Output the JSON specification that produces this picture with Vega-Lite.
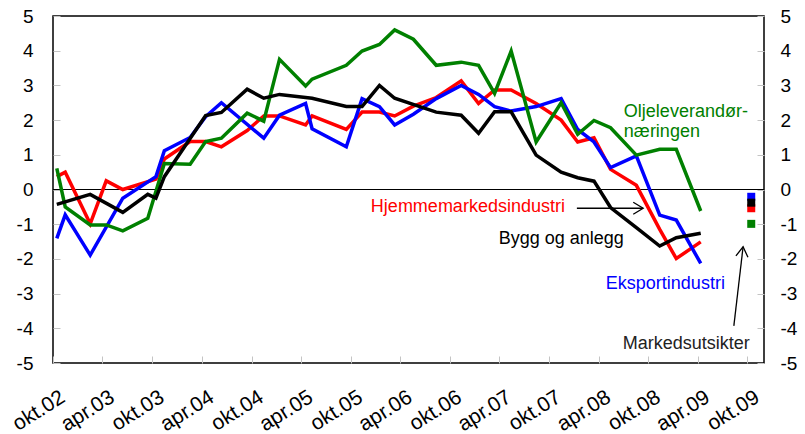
{
  "$schema": "https://vega.github.io/schema/vega-lite/v6.json",
  "width": 711,
  "height": 347,
  "autosize": "none",
  "padding": {"left": 53, "top": 16, "right": 41, "bottom": 71},
  "config": {
    "view": {"stroke": "#000000", "strokeWidth": 1.5},
    "font": "Liberation Sans",
    "axis": {"grid": false, "domain": false, "tickColor": "#c4c4c4", "tickSize": -7, "tickWidth": 1, "labelFont": "Liberation Sans", "labelFontSize": 19, "labelColor": "#000000"}
  },
  "datasets": {
    "serier": [
      {"serie": "Hjemmemarkedsindustri", "dato": "2002-10-15", "verdi": 0.37},
      {"serie": "Hjemmemarkedsindustri", "dato": "2002-11-15", "verdi": 0.5},
      {"serie": "Hjemmemarkedsindustri", "dato": "2003-02-15", "verdi": -0.99},
      {"serie": "Hjemmemarkedsindustri", "dato": "2003-04-15", "verdi": 0.25},
      {"serie": "Hjemmemarkedsindustri", "dato": "2003-06-15", "verdi": 0.0},
      {"serie": "Hjemmemarkedsindustri", "dato": "2003-10-15", "verdi": 0.3},
      {"serie": "Hjemmemarkedsindustri", "dato": "2003-11-15", "verdi": 0.88},
      {"serie": "Hjemmemarkedsindustri", "dato": "2004-02-18", "verdi": 1.38},
      {"serie": "Hjemmemarkedsindustri", "dato": "2004-04-15", "verdi": 1.38},
      {"serie": "Hjemmemarkedsindustri", "dato": "2004-06-12", "verdi": 1.23},
      {"serie": "Hjemmemarkedsindustri", "dato": "2004-09-15", "verdi": 1.7},
      {"serie": "Hjemmemarkedsindustri", "dato": "2004-11-15", "verdi": 2.12},
      {"serie": "Hjemmemarkedsindustri", "dato": "2005-01-12", "verdi": 2.12},
      {"serie": "Hjemmemarkedsindustri", "dato": "2005-04-18", "verdi": 1.86},
      {"serie": "Hjemmemarkedsindustri", "dato": "2005-05-12", "verdi": 2.12},
      {"serie": "Hjemmemarkedsindustri", "dato": "2005-09-15", "verdi": 1.73},
      {"serie": "Hjemmemarkedsindustri", "dato": "2005-11-12", "verdi": 2.23},
      {"serie": "Hjemmemarkedsindustri", "dato": "2006-01-15", "verdi": 2.23},
      {"serie": "Hjemmemarkedsindustri", "dato": "2006-03-12", "verdi": 2.12},
      {"serie": "Hjemmemarkedsindustri", "dato": "2006-05-20", "verdi": 2.4},
      {"serie": "Hjemmemarkedsindustri", "dato": "2006-08-12", "verdi": 2.65},
      {"serie": "Hjemmemarkedsindustri", "dato": "2006-11-12", "verdi": 3.13},
      {"serie": "Hjemmemarkedsindustri", "dato": "2007-01-15", "verdi": 2.48},
      {"serie": "Hjemmemarkedsindustri", "dato": "2007-03-15", "verdi": 2.87},
      {"serie": "Hjemmemarkedsindustri", "dato": "2007-05-15", "verdi": 2.87},
      {"serie": "Hjemmemarkedsindustri", "dato": "2007-08-15", "verdi": 2.48},
      {"serie": "Hjemmemarkedsindustri", "dato": "2007-11-15", "verdi": 2.0},
      {"serie": "Hjemmemarkedsindustri", "dato": "2008-01-15", "verdi": 1.37},
      {"serie": "Hjemmemarkedsindustri", "dato": "2008-03-15", "verdi": 1.49},
      {"serie": "Hjemmemarkedsindustri", "dato": "2008-05-15", "verdi": 0.58},
      {"serie": "Hjemmemarkedsindustri", "dato": "2008-08-18", "verdi": 0.12},
      {"serie": "Hjemmemarkedsindustri", "dato": "2008-11-12", "verdi": -1.15},
      {"serie": "Hjemmemarkedsindustri", "dato": "2009-01-12", "verdi": -1.99},
      {"serie": "Hjemmemarkedsindustri", "dato": "2009-04-12", "verdi": -1.51},

      {"serie": "Eksportindustri", "dato": "2002-10-15", "verdi": -1.41},
      {"serie": "Eksportindustri", "dato": "2002-11-15", "verdi": -0.73},
      {"serie": "Eksportindustri", "dato": "2003-02-15", "verdi": -1.89},
      {"serie": "Eksportindustri", "dato": "2003-06-15", "verdi": -0.25},
      {"serie": "Eksportindustri", "dato": "2003-10-15", "verdi": 0.37},
      {"serie": "Eksportindustri", "dato": "2003-11-15", "verdi": 1.12},
      {"serie": "Eksportindustri", "dato": "2004-02-18", "verdi": 1.5},
      {"serie": "Eksportindustri", "dato": "2004-04-15", "verdi": 2.1},
      {"serie": "Eksportindustri", "dato": "2004-06-12", "verdi": 2.5},
      {"serie": "Eksportindustri", "dato": "2004-11-15", "verdi": 1.48},
      {"serie": "Eksportindustri", "dato": "2005-01-12", "verdi": 2.14},
      {"serie": "Eksportindustri", "dato": "2005-04-18", "verdi": 2.48},
      {"serie": "Eksportindustri", "dato": "2005-05-12", "verdi": 1.75},
      {"serie": "Eksportindustri", "dato": "2005-09-15", "verdi": 1.23},
      {"serie": "Eksportindustri", "dato": "2005-11-12", "verdi": 2.62},
      {"serie": "Eksportindustri", "dato": "2006-01-15", "verdi": 2.39},
      {"serie": "Eksportindustri", "dato": "2006-03-12", "verdi": 1.86},
      {"serie": "Eksportindustri", "dato": "2006-05-20", "verdi": 2.17},
      {"serie": "Eksportindustri", "dato": "2006-08-12", "verdi": 2.62},
      {"serie": "Eksportindustri", "dato": "2006-11-12", "verdi": 3.0},
      {"serie": "Eksportindustri", "dato": "2007-01-15", "verdi": 2.74},
      {"serie": "Eksportindustri", "dato": "2007-03-15", "verdi": 2.39},
      {"serie": "Eksportindustri", "dato": "2007-05-15", "verdi": 2.26},
      {"serie": "Eksportindustri", "dato": "2007-08-15", "verdi": 2.39},
      {"serie": "Eksportindustri", "dato": "2007-11-15", "verdi": 2.62},
      {"serie": "Eksportindustri", "dato": "2008-01-15", "verdi": 1.73},
      {"serie": "Eksportindustri", "dato": "2008-03-15", "verdi": 1.37},
      {"serie": "Eksportindustri", "dato": "2008-05-15", "verdi": 0.63},
      {"serie": "Eksportindustri", "dato": "2008-08-18", "verdi": 0.97},
      {"serie": "Eksportindustri", "dato": "2008-11-12", "verdi": -0.74},
      {"serie": "Eksportindustri", "dato": "2009-01-12", "verdi": -0.88},
      {"serie": "Eksportindustri", "dato": "2009-04-12", "verdi": -2.13},

      {"serie": "Oljeleverandørnæringen", "dato": "2002-10-15", "verdi": 0.61},
      {"serie": "Oljeleverandørnæringen", "dato": "2002-11-15", "verdi": -0.5},
      {"serie": "Oljeleverandørnæringen", "dato": "2003-02-15", "verdi": -1.02},
      {"serie": "Oljeleverandørnæringen", "dato": "2003-04-15", "verdi": -1.02},
      {"serie": "Oljeleverandørnæringen", "dato": "2003-06-15", "verdi": -1.19},
      {"serie": "Oljeleverandørnæringen", "dato": "2003-09-15", "verdi": -0.83},
      {"serie": "Oljeleverandørnæringen", "dato": "2003-11-15", "verdi": 0.75},
      {"serie": "Oljeleverandørnæringen", "dato": "2004-02-18", "verdi": 0.73},
      {"serie": "Oljeleverandørnæringen", "dato": "2004-04-15", "verdi": 1.38},
      {"serie": "Oljeleverandørnæringen", "dato": "2004-06-12", "verdi": 1.48},
      {"serie": "Oljeleverandørnæringen", "dato": "2004-09-15", "verdi": 2.2},
      {"serie": "Oljeleverandørnæringen", "dato": "2004-11-15", "verdi": 1.97},
      {"serie": "Oljeleverandørnæringen", "dato": "2005-01-12", "verdi": 3.75},
      {"serie": "Oljeleverandørnæringen", "dato": "2005-04-18", "verdi": 2.98},
      {"serie": "Oljeleverandørnæringen", "dato": "2005-05-12", "verdi": 3.18},
      {"serie": "Oljeleverandørnæringen", "dato": "2005-09-15", "verdi": 3.58},
      {"serie": "Oljeleverandørnæringen", "dato": "2005-11-12", "verdi": 3.99},
      {"serie": "Oljeleverandørnæringen", "dato": "2006-01-15", "verdi": 4.18},
      {"serie": "Oljeleverandørnæringen", "dato": "2006-03-12", "verdi": 4.6},
      {"serie": "Oljeleverandørnæringen", "dato": "2006-05-20", "verdi": 4.33},
      {"serie": "Oljeleverandørnæringen", "dato": "2006-08-12", "verdi": 3.58},
      {"serie": "Oljeleverandørnæringen", "dato": "2006-11-12", "verdi": 3.67},
      {"serie": "Oljeleverandørnæringen", "dato": "2007-01-15", "verdi": 3.58},
      {"serie": "Oljeleverandørnæringen", "dato": "2007-03-15", "verdi": 2.77},
      {"serie": "Oljeleverandørnæringen", "dato": "2007-05-15", "verdi": 3.99},
      {"serie": "Oljeleverandørnæringen", "dato": "2007-08-15", "verdi": 1.37},
      {"serie": "Oljeleverandørnæringen", "dato": "2007-11-15", "verdi": 2.5},
      {"serie": "Oljeleverandørnæringen", "dato": "2008-01-15", "verdi": 1.59},
      {"serie": "Oljeleverandørnæringen", "dato": "2008-03-15", "verdi": 1.99},
      {"serie": "Oljeleverandørnæringen", "dato": "2008-05-15", "verdi": 1.78},
      {"serie": "Oljeleverandørnæringen", "dato": "2008-08-18", "verdi": 0.99},
      {"serie": "Oljeleverandørnæringen", "dato": "2008-11-12", "verdi": 1.16},
      {"serie": "Oljeleverandørnæringen", "dato": "2009-01-12", "verdi": 1.16},
      {"serie": "Oljeleverandørnæringen", "dato": "2009-04-12", "verdi": -0.62},

      {"serie": "Bygg og anlegg", "dato": "2002-10-15", "verdi": -0.43},
      {"serie": "Bygg og anlegg", "dato": "2003-02-15", "verdi": -0.14},
      {"serie": "Bygg og anlegg", "dato": "2003-06-15", "verdi": -0.66},
      {"serie": "Bygg og anlegg", "dato": "2003-09-15", "verdi": -0.14},
      {"serie": "Bygg og anlegg", "dato": "2003-10-15", "verdi": -0.25},
      {"serie": "Bygg og anlegg", "dato": "2003-11-15", "verdi": 0.37},
      {"serie": "Bygg og anlegg", "dato": "2004-04-15", "verdi": 2.13},
      {"serie": "Bygg og anlegg", "dato": "2004-06-12", "verdi": 2.22},
      {"serie": "Bygg og anlegg", "dato": "2004-09-15", "verdi": 2.89},
      {"serie": "Bygg og anlegg", "dato": "2004-11-15", "verdi": 2.63},
      {"serie": "Bygg og anlegg", "dato": "2005-01-12", "verdi": 2.74},
      {"serie": "Bygg og anlegg", "dato": "2005-05-12", "verdi": 2.63},
      {"serie": "Bygg og anlegg", "dato": "2005-09-15", "verdi": 2.39},
      {"serie": "Bygg og anlegg", "dato": "2005-11-12", "verdi": 2.39},
      {"serie": "Bygg og anlegg", "dato": "2006-01-15", "verdi": 3.0},
      {"serie": "Bygg og anlegg", "dato": "2006-03-12", "verdi": 2.63},
      {"serie": "Bygg og anlegg", "dato": "2006-08-12", "verdi": 2.23},
      {"serie": "Bygg og anlegg", "dato": "2006-11-12", "verdi": 2.14},
      {"serie": "Bygg og anlegg", "dato": "2007-01-15", "verdi": 1.62},
      {"serie": "Bygg og anlegg", "dato": "2007-03-15", "verdi": 2.24},
      {"serie": "Bygg og anlegg", "dato": "2007-05-15", "verdi": 2.24},
      {"serie": "Bygg og anlegg", "dato": "2007-08-15", "verdi": 0.99},
      {"serie": "Bygg og anlegg", "dato": "2007-11-15", "verdi": 0.5},
      {"serie": "Bygg og anlegg", "dato": "2008-01-15", "verdi": 0.34},
      {"serie": "Bygg og anlegg", "dato": "2008-03-15", "verdi": 0.24},
      {"serie": "Bygg og anlegg", "dato": "2008-05-15", "verdi": -0.52},
      {"serie": "Bygg og anlegg", "dato": "2008-08-18", "verdi": -1.1},
      {"serie": "Bygg og anlegg", "dato": "2008-11-12", "verdi": -1.63},
      {"serie": "Bygg og anlegg", "dato": "2009-01-12", "verdi": -1.39},
      {"serie": "Bygg og anlegg", "dato": "2009-04-12", "verdi": -1.26}
    ],
    "utsikter": [
      {"serie": "Eksportindustri", "dato": "2009-10-15", "verdi": -0.21},
      {"serie": "Hjemmemarkedsindustri", "dato": "2009-10-15", "verdi": -0.54},
      {"serie": "Bygg og anlegg", "dato": "2009-10-15", "verdi": -0.38},
      {"serie": "Oljeleverandørnæringen", "dato": "2009-10-15", "verdi": -0.99}
    ],
    "etiketter_h": [
      {"tekst": "Hjemmemarkedsindustri", "serie": "Hjemmemarkedsindustri", "dato": "2007-11-29", "verdi": -0.66},
      {"tekst": "Bygg og anlegg", "serie": "Bygg og anlegg", "dato": "2008-07-03", "verdi": -1.57},
      {"tekst": "Eksportindustri", "serie": "Eksportindustri", "dato": "2009-07-10", "verdi": -2.88},
      {"tekst": "Markedsutsikter", "serie": "Markedsutsikter", "dato": "2009-10-10", "verdi": -4.61}
    ],
    "etiketter_v": [
      {"tekst": "Oljeleverandør-", "serie": "Oljeleverandørnæringen", "dato": "2008-07-03", "verdi": 2.09},
      {"tekst": "næringen", "serie": "Oljeleverandørnæringen", "dato": "2008-07-03", "verdi": 1.5}
    ],
    "piler": [
      {"pil": "Hjemmemarkedsindustri", "dato": "2008-01-12", "verdi": -0.54, "dato2": "2008-09-12", "verdi2": -0.54},
      {"pil": "Markedsutsikter", "dato": "2009-08-12", "verdi": -3.93, "dato2": "2009-09-15", "verdi2": -1.65}
    ]
  },
  "resolve": {"axis": {"y": "independent"}},
  "layer": [
    {
      "data": {"values": [{"verdi": 0}]},
      "mark": {"type": "rule", "color": "#000000", "strokeWidth": 1},
      "encoding": {
        "y": {"field": "verdi", "type": "quantitative", "scale": {"domain": [-5, 5], "nice": false, "zero": false}, "axis": null}
      }
    },
    {
      "data": {"name": "serier"},
      "mark": {"type": "line", "strokeWidth": 3.5, "strokeJoin": "miter"},
      "encoding": {
        "x": {
          "field": "dato", "type": "temporal",
          "scale": {"domain": [{"year": 2002, "month": 10, "date": 1}, {"year": 2009, "month": 12, "date": 1}], "nice": false},
          "axis": {
            "title": null,
            "values": [
              {"year": 2002, "month": 10, "date": 1}, {"year": 2003, "month": 4, "date": 1},
              {"year": 2003, "month": 10, "date": 1}, {"year": 2004, "month": 4, "date": 1},
              {"year": 2004, "month": 10, "date": 1}, {"year": 2005, "month": 4, "date": 1},
              {"year": 2005, "month": 10, "date": 1}, {"year": 2006, "month": 4, "date": 1},
              {"year": 2006, "month": 10, "date": 1}, {"year": 2007, "month": 4, "date": 1},
              {"year": 2007, "month": 10, "date": 1}, {"year": 2008, "month": 4, "date": 1},
              {"year": 2008, "month": 10, "date": 1}, {"year": 2009, "month": 4, "date": 1},
              {"year": 2009, "month": 10, "date": 1}
            ],
            "labelExpr": "(month(datum.value) == 9 ? 'okt.' : 'apr.') + timeFormat(datum.value, '%y')",
            "labelAngle": -32, "labelAlign": "right", "labelBaseline": "top", "labelFontSize": 21,
            "labelPadding": 30, "labelOffset": 4, "labelOverlap": false, "labelFlush": false, "labelBound": false
          }
        },
        "y": {
          "field": "verdi", "type": "quantitative",
          "scale": {"domain": [-5, 5], "nice": false, "zero": false},
          "axis": {"orient": "left", "title": null, "values": [-5, -4, -3, -2, -1, 0, 1, 2, 3, 4, 5], "labelExpr": "'' + datum.value", "labelPadding": 27}
        },
        "color": {
          "field": "serie", "type": "nominal",
          "scale": {"domain": ["Eksportindustri", "Hjemmemarkedsindustri", "Bygg og anlegg", "Oljeleverandørnæringen", "Markedsutsikter"], "range": ["#0000ff", "#ff0000", "#000000", "#008000", "#222222"]},
          "legend": null
        }
      }
    },
    {
      "data": {"name": "utsikter"},
      "mark": {"type": "point", "shape": "square", "filled": true, "size": 64, "opacity": 1},
      "encoding": {
        "x": {"field": "dato", "type": "temporal"},
        "y": {
          "field": "verdi", "type": "quantitative",
          "scale": {"domain": [-5, 5], "nice": false, "zero": false},
          "axis": {"orient": "right", "title": null, "values": [-5, -4, -3, -2, -1, 0, 1, 2, 3, 4, 5], "labelExpr": "'' + datum.value", "labelPadding": 23}
        },
        "color": {"field": "serie", "type": "nominal", "legend": null}
      }
    },
    {
      "data": {"name": "piler"},
      "mark": {"type": "rule", "color": "#000000", "strokeWidth": 1.3},
      "encoding": {
        "x": {"field": "dato", "type": "temporal"},
        "x2": {"field": "dato2"},
        "y": {"field": "verdi", "type": "quantitative", "axis": null},
        "y2": {"field": "verdi2"}
      }
    },
    {
      "data": {"name": "piler"},
      "transform": [{"filter": "datum.pil == 'Hjemmemarkedsindustri'"}],
      "mark": {"type": "point", "shape": "M -0.55 0.9 L 0 0 L 0.55 0.9", "size": 484, "filled": false, "strokeWidth": 1.3, "color": "#000000", "opacity": 1, "angle": 90},
      "encoding": {
        "x": {"field": "dato2", "type": "temporal"},
        "y": {"field": "verdi2", "type": "quantitative", "axis": null}
      }
    },
    {
      "data": {"name": "piler"},
      "transform": [{"filter": "datum.pil == 'Markedsutsikter'"}],
      "mark": {"type": "point", "shape": "M -0.55 0.9 L 0 0 L 0.55 0.9", "size": 484, "filled": false, "strokeWidth": 1.3, "color": "#000000", "opacity": 1, "angle": 6.7},
      "encoding": {
        "x": {"field": "dato2", "type": "temporal"},
        "y": {"field": "verdi2", "type": "quantitative", "axis": null}
      }
    },
    {
      "data": {"name": "etiketter_h"},
      "mark": {"type": "text", "align": "right", "baseline": "alphabetic", "fontSize": 18, "font": "Liberation Sans"},
      "encoding": {
        "x": {"field": "dato", "type": "temporal"},
        "y": {"field": "verdi", "type": "quantitative", "axis": null},
        "text": {"field": "tekst"},
        "color": {"field": "serie", "type": "nominal", "legend": null}
      }
    },
    {
      "data": {"name": "etiketter_v"},
      "mark": {"type": "text", "align": "left", "baseline": "alphabetic", "fontSize": 18, "font": "Liberation Sans"},
      "encoding": {
        "x": {"field": "dato", "type": "temporal"},
        "y": {"field": "verdi", "type": "quantitative", "axis": null},
        "text": {"field": "tekst"},
        "color": {"field": "serie", "type": "nominal", "legend": null}
      }
    }
  ]
}
